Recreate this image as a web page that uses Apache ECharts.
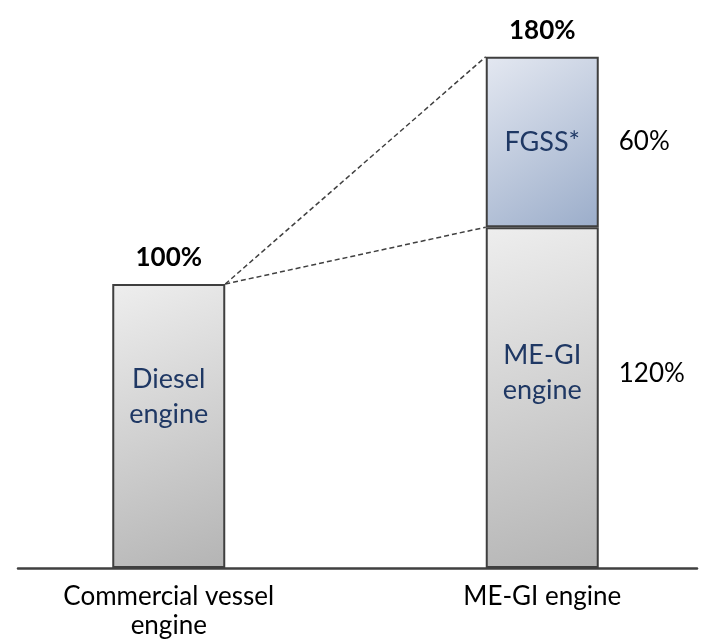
<!DOCTYPE html>
<html>
<head>
<meta charset="utf-8">
<script src="https://cdn.jsdelivr.net/npm/echarts@6/dist/echarts.min.js"></script>
<style>
    html, body { margin: 0; padding: 0; background: #fff; }
    #chart { width: 708px; height: 643px; }
</style>
</head>
<body>
<div id="chart"></div>
<script>
// data
var categories = ['Commercial vessel\nengine', 'ME-GI engine'];
var partNames = ['Diesel\nengine', 'ME-GI\nengine', 'FGSS*'];
var dieselValues = [100, '-'];
var megiValues = ['-', 120];
var fgssValues = ['-', 60];
var totalValues = [100, 180];
var shareLabels = ['120%', '60%'];

var BAR_W = 113;
var FONT = 'Lato, "Open Sans", sans-serif';

function grayFill() {
    return new echarts.graphic.LinearGradient(0, 0, 1, 1, [
        { offset: 0, color: '#eeeeee' },
        { offset: 1, color: '#b4b4b4' }
    ]);
}
function blueFill() {
    return new echarts.graphic.LinearGradient(0, 0, 1, 1, [
        { offset: 0, color: '#e4e8f1' },
        { offset: 1, color: '#9badca' }
    ]);
}

var partLabel = {
    show: true,
    position: 'inside',
    color: '#1f3864',
    fontFamily: FONT,
    fontSize: 27,
    lineHeight: 35
};

// midpoints of the two ME-GI segments, for the share labels on the right
var shareMid = [megiValues[1] / 2, megiValues[1] + fgssValues[1] / 2];
var shareLift = [-24, 0];

var chart = echarts.init(document.getElementById('chart'));
var option = {
    animation: false,
    grid: [
        { left: -18, right: -21, top: 0, bottom: 75, outerBoundsMode: 'none' },
        { left: 18, right: 11, top: 0, bottom: 75, outerBoundsMode: 'none' }
    ],
    xAxis: [{
        type: 'category',
        gridIndex: 0,
        data: categories,
        axisLine: { show: false },
        axisTick: { show: false },
        axisLabel: {
            margin: 14,
            color: '#000',
            fontFamily: FONT,
            fontSize: 26,
            lineHeight: 29
        }
    }, {
        type: 'value',
        gridIndex: 1,
        min: 0,
        max: 1,
        axisLine: { show: true, lineStyle: { color: '#404040', width: 2.5 } },
        axisTick: { show: false },
        axisLabel: { show: false },
        splitLine: { show: false }
    }],
    yAxis: [{
        type: 'value',
        gridIndex: 0,
        min: 0,
        max: 200,
        show: false
    }, {
        type: 'value',
        gridIndex: 1,
        min: 0,
        max: 1,
        show: false
    }],
    series: [{
        name: 'Diesel',
        type: 'bar',
        stack: 'total',
        barWidth: BAR_W,
        data: dieselValues,
        itemStyle: { color: grayFill(), borderColor: '#3f3f3f', borderWidth: 2 },
        label: Object.assign({}, partLabel, { formatter: partNames[0], offset: [0, -29] })
    }, {
        name: 'ME-GI',
        type: 'bar',
        stack: 'total',
        barWidth: BAR_W,
        data: megiValues,
        itemStyle: { color: grayFill(), borderColor: '#3f3f3f', borderWidth: 2 },
        label: Object.assign({}, partLabel, { formatter: partNames[1], offset: [0, -25] })
    }, {
        name: 'FGSS',
        type: 'bar',
        stack: 'total',
        barWidth: BAR_W,
        data: fgssValues,
        itemStyle: { color: blueFill(), borderColor: '#3f3f3f', borderWidth: 2 },
        label: Object.assign({}, partLabel, { formatter: partNames[2] })
    }, {
        // dashed connectors from the diesel bar to the two ME-GI levels
        name: 'connectors',
        type: 'custom',
        data: [
            [0, totalValues[0], 1, totalValues[1]],
            [0, totalValues[0], 1, megiValues[1]]
        ],
        renderItem: function (params, api) {
            var a = api.coord([api.value(0), api.value(1)]);
            var b = api.coord([api.value(2), api.value(3)]);
            return {
                type: 'line',
                shape: { x1: a[0] + BAR_W / 2, y1: a[1], x2: b[0] - BAR_W / 2, y2: b[1] },
                style: { stroke: '#404040', lineWidth: 1.5, lineDash: [5, 3] },
                z2: 1
            };
        },
        z: 1
    }, {
        name: 'totals',
        type: 'custom',
        data: [[0, totalValues[0]], [1, totalValues[1]]],
        renderItem: function (params, api) {
            var p = api.coord([api.value(0), api.value(1)]);
            return {
                type: 'text',
                x: p[0],
                y: p[1] - 13,
                style: {
                    text: totalValues[params.dataIndex] + '%',
                    fill: '#000',
                    font: 'bold 26px ' + FONT,
                    align: 'center',
                    verticalAlign: 'bottom'
                }
            };
        },
        z: 5
    }, {
        name: 'shares',
        type: 'custom',
        data: [[1, shareMid[0]], [1, shareMid[1]]],
        renderItem: function (params, api) {
            var p = api.coord([api.value(0), api.value(1)]);
            return {
                type: 'text',
                x: p[0] + BAR_W / 2 + 20,
                y: p[1] + shareLift[params.dataIndex],
                style: {
                    text: shareLabels[params.dataIndex],
                    fill: '#000',
                    font: '26px ' + FONT,
                    align: 'left',
                    verticalAlign: 'middle'
                }
            };
        },
        z: 5
    }]
};
chart.setOption(option);
</script>
</body>
</html>
